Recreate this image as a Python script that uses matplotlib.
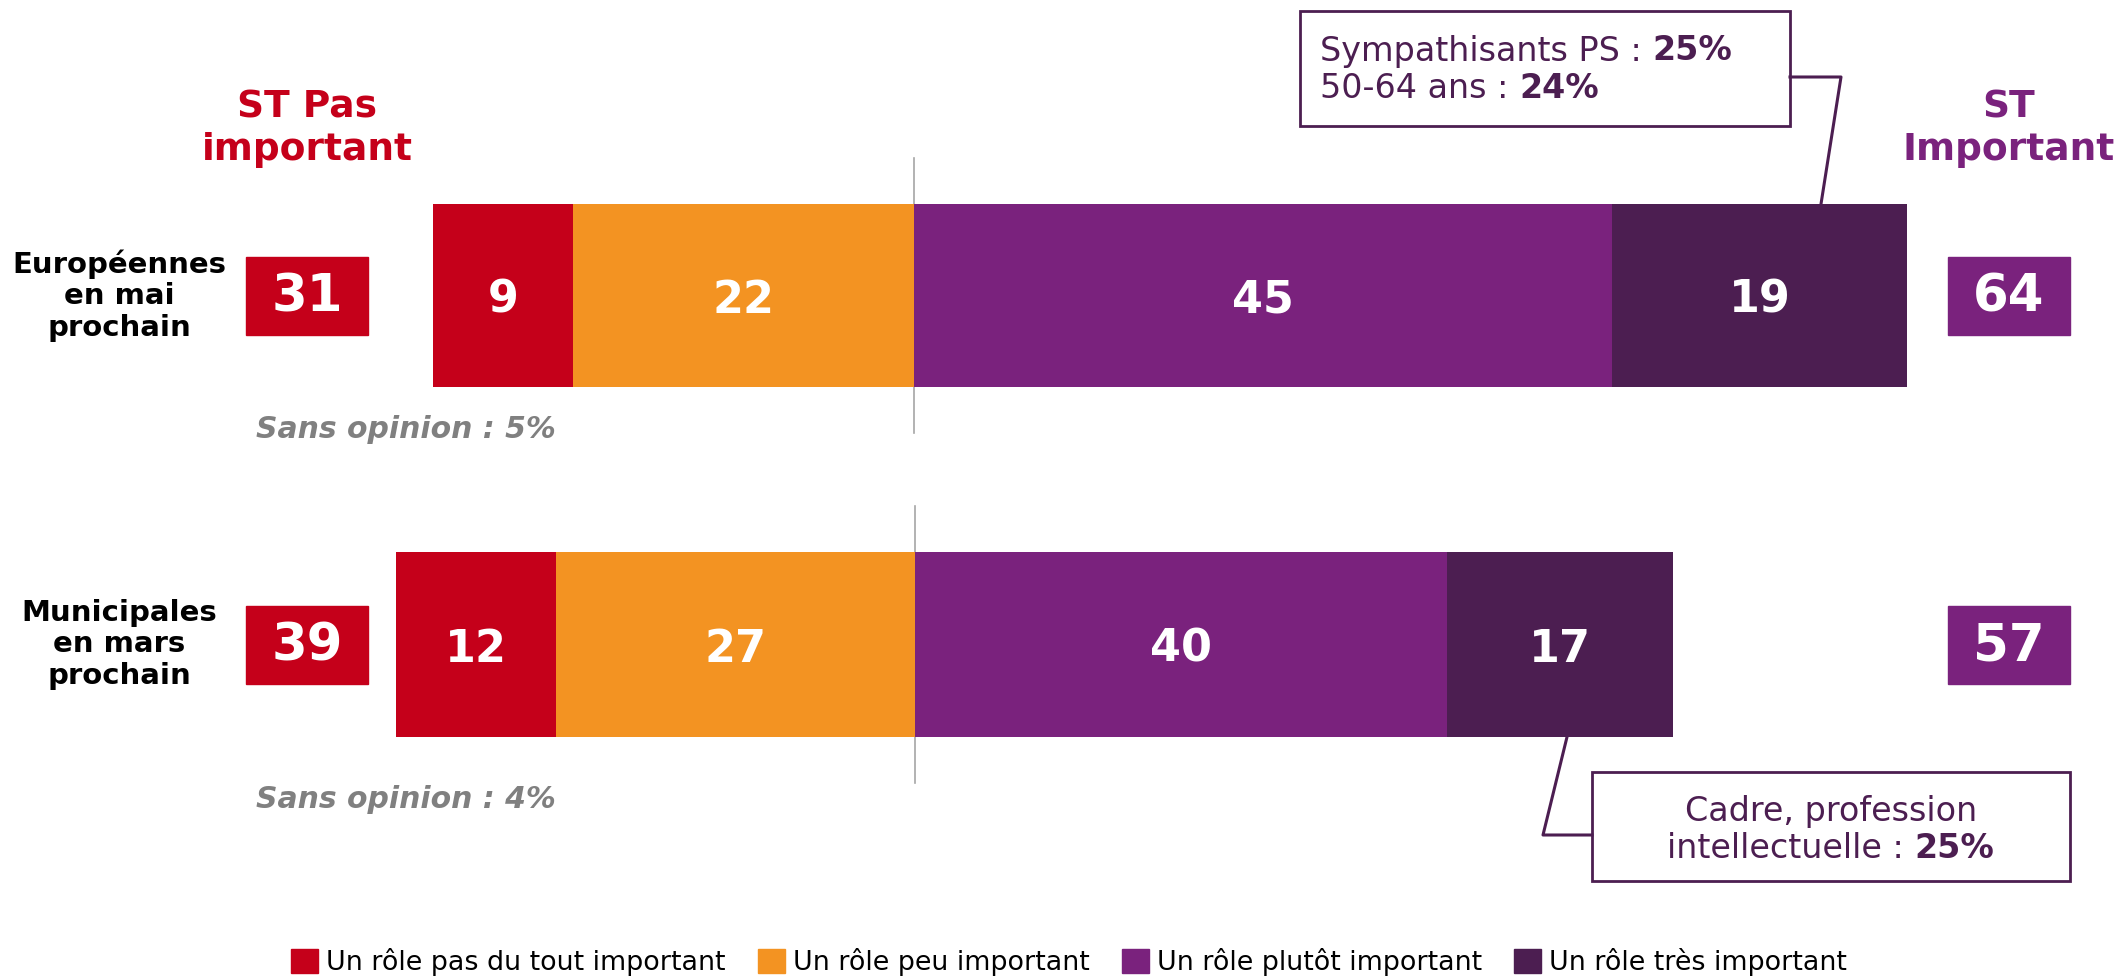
import matplotlib.pyplot as plt
from matplotlib.patches import Rectangle, Patch
from matplotlib.lines import Line2D

# data
categories = ["Européennes\nen mai\nprochain", "Municipales\nen mars\nprochain"]
pas_du_tout = [9, 12]
peu = [22, 27]
plutot = [45, 40]
tres = [19, 17]
sans_opinion = [5, 4]
series_labels = ["Un rôle pas du tout important", "Un rôle peu important",
                 "Un rôle plutôt important", "Un rôle très important"]
colors = ["#C5001A", "#F39322", "#7A227D", "#4C1E51"]
header_neg = "ST Pas\nimportant"
header_pos = "ST\nImportant"
callout_1 = [("Sympathisants PS : ", "25%"), ("50-64 ans : ", "24%")]
callout_2 = ["Cadre, profession", ("intellectuelle : ", "25%")]

W, H = 2121, 977
dark = "#4C1E51"


def fx(px):
    return px / W


def fy(py):
    return 1 - py / H


fig = plt.figure(figsize=(W / 100, H / 100), dpi=100)
plt.rcParams['font.family'] = ['DejaVu Sans']

# bar area of each row in pixels: left, right, top, bottom
rows = [(433, 1907, 204, 387), (396, 1673, 552, 737)]
sans_y = [429, 800]
series = [pas_du_tout, peu, plutot, tres]

for i, (l, r, t, b) in enumerate(rows):
    ax = fig.add_axes([fx(l), fy(b), fx(r) - fx(l), fy(t) - fy(b)])
    neg = pas_du_tout[i] + peu[i]
    pos = plutot[i] + tres[i]
    left = -neg
    for vals, c in zip(series, colors):
        v = vals[i]
        ax.barh(0, v, left=left, height=1, color=c, zorder=2)
        ax.text(left + v / 2, -0.025, str(v), ha='center', va='center', color='white',
                fontsize=32, fontweight='bold', zorder=3)
        left += v
    ax.set_xlim(-neg, pos)
    ax.set_ylim(-0.5, 0.5)
    ax.axis('off')
    ax.axvline(0, ymin=-0.25, ymax=1.25, color='#A6A6A6', lw=1.2, clip_on=False, zorder=1)

    yc = (t + b) / 2
    # category label
    fig.text(fx(119), fy(yc), categories[i], ha='center', va='center', fontsize=21,
             fontweight='bold', color='black', linespacing=1.15)
    # subtotal boxes
    for cx, val, col in [(307, neg, colors[0]), (2009, pos, colors[2])]:
        fig.patches.append(Rectangle((fx(cx - 61), fy(yc + 39)), 122 / W, 78 / H,
                                     transform=fig.transFigure, color=col))
        fig.text(fx(cx), fy(yc + 2), str(val), ha='center', va='center', color='white',
                 fontsize=37, fontweight='bold')
    # sans opinion
    fig.text(fx(406), fy(sans_y[i]), f"Sans opinion : {sans_opinion[i]}%", ha='center',
             va='center', fontsize=21.5, fontweight='bold', fontstyle='italic', color='#808080')

# headers
fig.text(fx(307), fy(129), header_neg, ha='center', va='center', fontsize=27,
         fontweight='bold', color=colors[0], linespacing=1.25)
fig.text(fx(2009), fy(129), header_pos, ha='center', va='center', fontsize=27,
         fontweight='bold', color=colors[2], linespacing=1.25)

renderer = fig.canvas.get_renderer()


def width_px(s, **kw):
    tt = fig.text(0, 0, s, **kw)
    w = tt.get_window_extent(renderer).width
    tt.remove()
    return w


fs_call = 24

# callout 1
fig.patches.append(Rectangle((fx(1300), fy(126)), 490 / W, 115 / H, transform=fig.transFigure,
                             fill=False, edgecolor=dark, lw=2))
for k, (reg, bold) in enumerate(callout_1):
    y = [51, 89][k]
    fig.text(fx(1320), fy(y), reg, ha='left', va='center', fontsize=fs_call, color=dark)
    w = width_px(reg, fontsize=fs_call)
    fig.text(fx(1320 + w), fy(y), bold, ha='left', va='center', fontsize=fs_call,
             color=dark, fontweight='bold')
fig.lines.append(Line2D([fx(1790), fx(1841), fx(1821)], [fy(77), fy(77), fy(204)],
                        transform=fig.transFigure, color=dark, lw=2.2))

# callout 2
fig.patches.append(Rectangle((fx(1592), fy(881)), 478 / W, 109 / H, transform=fig.transFigure,
                             fill=False, edgecolor=dark, lw=2))
fig.text(fx(1831), fy(811), callout_2[0], ha='center', va='center', fontsize=fs_call, color=dark)
reg, bold = callout_2[1]
w1 = width_px(reg, fontsize=fs_call)
w2 = width_px(bold, fontsize=fs_call, fontweight='bold')
x0 = 1831 - (w1 + w2) / 2
fig.text(fx(x0), fy(849), reg, ha='left', va='center', fontsize=fs_call, color=dark)
fig.text(fx(x0 + w1), fy(849), bold, ha='left', va='center', fontsize=fs_call, color=dark,
         fontweight='bold')
fig.lines.append(Line2D([fx(1592), fx(1543), fx(1567)], [fy(835), fy(835), fy(737)],
                        transform=fig.transFigure, color=dark, lw=2.2))

# legend
handles = [Patch(color=c, label=lab) for c, lab in zip(colors, series_labels)]
fig.legend(handles=handles, loc='center', bbox_to_anchor=(fx(1069), fy(962)), ncol=4,
           frameon=False, fontsize=19.4, handlelength=1.0, handleheight=1.0,
           handletextpad=0.3, columnspacing=1.2, borderpad=0)

fig.savefig("out.png", dpi=100)
